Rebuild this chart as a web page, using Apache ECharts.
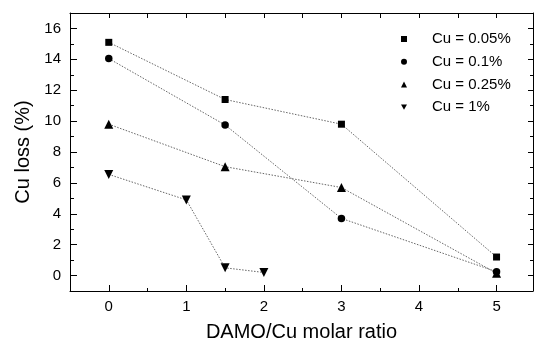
<!DOCTYPE html>
<html>
<head>
<meta charset="utf-8">
<script src="https://cdn.jsdelivr.net/npm/echarts@6/dist/echarts.min.js"></script>
<style>html,body{margin:0;padding:0;background:#fff;}#c{width:535px;height:347px;}</style>
</head>
<body>
<div id="c"></div>
<script>
var seriesNames = ['Cu = 0.05%', 'Cu = 0.1%', 'Cu = 0.25%', 'Cu = 1%'];
var cu005 = [[0, 15.1], [1.5, 11.4], [3, 9.8], [5, 1.2]];
var cu01 = [[0, 14.05], [1.5, 9.75], [3, 3.7], [5, 0.25]];
var cu025 = [[0, 9.8], [1.5, 7.05], [3, 5.7], [5, 0.15]];
var cu1 = [[0, 6.55], [1, 4.9], [1.5, 0.5], [2, 0.2]];
var xMajor = [0, 1, 2, 3, 4, 5];
var xMinor = [0.5, 1.5, 2.5, 3.5, 4.5];
var yMajor = [0, 2, 4, 6, 8, 10, 12, 14, 16];
var yMinor = [-1, 1, 3, 5, 7, 9, 11, 13, 15, 17];

var FONT = '"Liberation Sans", Arial, sans-serif';
var downTri = 'path://M0,0L10,0L5,9Z';
var symbols = ['rect', 'circle', 'triangle', downTri];
var sizes = [7, 7.5, 9, 9];
var datas = [cu005, cu01, cu025, cu1];

function xAx(pos, values, len, labels, withLine) {
  return {
    type: 'value', position: pos, min: -0.5, max: 5.47,
    axisLine: {show: withLine, onZero: false, lineStyle: {color: '#000', width: 1}},
    axisTick: {show: true, inside: true, length: len, customValues: values, lineStyle: {color: '#000', width: 1}},
    axisLabel: labels ? {show: true, customValues: xMajor, color: '#000', fontSize: 15, fontFamily: FONT, margin: 8} : {show: false},
    splitLine: {show: false}
  };
}
function yAx(pos, values, len, labels, withLine) {
  return {
    type: 'value', position: pos, min: -1, max: 17,
    axisLine: {show: withLine, onZero: false, lineStyle: {color: '#000', width: 1}},
    axisTick: {show: true, inside: true, length: len, customValues: values, lineStyle: {color: '#000', width: 1}},
    axisLabel: labels ? {show: true, customValues: yMajor, color: '#000', fontSize: 15, fontFamily: FONT, margin: 9} : {show: false},
    splitLine: {show: false}
  };
}

var xAxes = [
  xAx('bottom', xMajor, 6, true, true),
  xAx('bottom', xMinor, 3, false, false),
  xAx('top', xMajor, 5, false, true),
  xAx('top', xMinor, 5, false, false)
];
xAxes[0].name = 'DAMO/Cu molar ratio';
xAxes[0].nameLocation = 'middle';
xAxes[0].nameGap = 31;
xAxes[0].nameTextStyle = {fontSize: 20, fontFamily: FONT, color: '#000'};

var yAxes = [
  yAx('left', yMajor, 7, true, true),
  yAx('left', yMinor, 4, false, false),
  yAx('right', yMajor, 5, false, true),
  yAx('right', yMinor, 3, false, false)
];
yAxes[0].name = 'Cu loss (%)';
yAxes[0].nameLocation = 'middle';
yAxes[0].nameGap = 34;
yAxes[0].nameTextStyle = {fontSize: 20, fontFamily: FONT, color: '#000'};

var series = seriesNames.map(function (n, i) {
  return {
    name: n, type: 'line', data: datas[i],
    xAxisIndex: 0, yAxisIndex: 0,
    symbol: symbols[i], symbolSize: sizes[i],
    itemStyle: {color: '#000'},
    lineStyle: {color: '#666', width: 1, type: [1.5, 1.5]},
    emphasis: {disabled: true},
    animation: false
  };
});

var chart = echarts.init(document.getElementById('c'), null, {renderer: 'canvas'});
chart.setOption({
  backgroundColor: '#fff',
  animation: false,
  grid: {left: 70, right: 2, top: 13, bottom: 52, containLabel: false},
  xAxis: xAxes,
  yAxis: yAxes,
  legend: {
    orient: 'vertical', left: 401, top: 31, padding: 0,
    itemWidth: 6, itemHeight: 6, itemGap: 6.7,
    data: seriesNames.map(function (n, i) { return {name: n, icon: symbols[i]}; }),
    formatter: function (n) { return '{s|}' + n; },
    textStyle: {fontSize: 15, fontFamily: FONT, color: '#000', lineHeight: 16,
      rich: {s: {width: 20}}},
    selectedMode: false
  },
  series: series
});
</script>
</body>
</html>
